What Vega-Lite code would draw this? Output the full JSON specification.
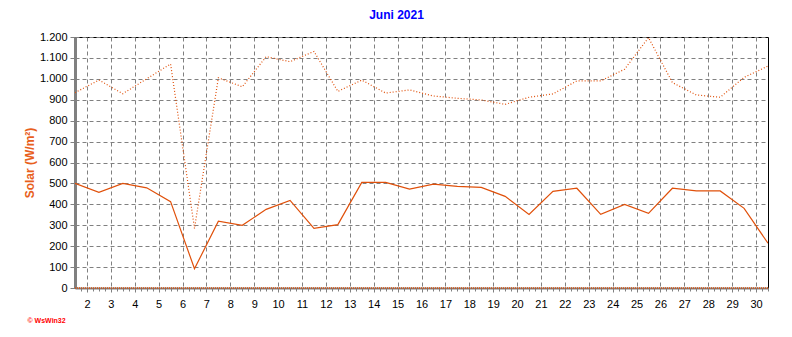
{
  "$schema": "https://vega.github.io/schema/vega-lite/v6.json",
  "width": 693,
  "height": 251,
  "autosize": "none",
  "padding": {"left": 75, "top": 37, "right": 24, "bottom": 49},
  "background": "#ffffff",
  "title": {"text": "Juni 2021", "fontSize": 12, "fontWeight": "bold", "color": "#0000ff", "font": "Liberation Sans", "anchor": "middle", "dx": -25, "offset": 9},
  "config": {"view": {"stroke": "#000000", "strokeWidth": 1}},
  "data": {"values": [
    {"tag": 1, "max": 934, "avg": 500, "min": 0},
    {"tag": 2, "max": 994, "avg": 457, "min": 0},
    {"tag": 3, "max": 929, "avg": 500, "min": 0},
    {"tag": 4, "max": 1000, "avg": 479, "min": 0},
    {"tag": 5, "max": 1071, "avg": 413, "min": 0},
    {"tag": 6, "max": 285, "avg": 92, "min": 0},
    {"tag": 7, "max": 1005, "avg": 319, "min": 0},
    {"tag": 8, "max": 962, "avg": 300, "min": 0},
    {"tag": 9, "max": 1106, "avg": 376, "min": 0},
    {"tag": 10, "max": 1082, "avg": 419, "min": 0},
    {"tag": 11, "max": 1131, "avg": 285, "min": 0},
    {"tag": 12, "max": 940, "avg": 303, "min": 0},
    {"tag": 13, "max": 994, "avg": 505, "min": 0},
    {"tag": 14, "max": 932, "avg": 505, "min": 0},
    {"tag": 15, "max": 947, "avg": 473, "min": 0},
    {"tag": 16, "max": 918, "avg": 497, "min": 0},
    {"tag": 17, "max": 907, "avg": 486, "min": 0},
    {"tag": 18, "max": 899, "avg": 481, "min": 0},
    {"tag": 19, "max": 878, "avg": 438, "min": 0},
    {"tag": 20, "max": 912, "avg": 352, "min": 0},
    {"tag": 21, "max": 928, "avg": 462, "min": 0},
    {"tag": 22, "max": 990, "avg": 477, "min": 0},
    {"tag": 23, "max": 990, "avg": 352, "min": 0},
    {"tag": 24, "max": 1046, "avg": 400, "min": 0},
    {"tag": 25, "max": 1197, "avg": 357, "min": 0},
    {"tag": 26, "max": 982, "avg": 477, "min": 0},
    {"tag": 27, "max": 923, "avg": 464, "min": 0},
    {"tag": 28, "max": 912, "avg": 464, "min": 0},
    {"tag": 29, "max": 1007, "avg": 381, "min": 0},
    {"tag": 30, "max": 1061, "avg": 214, "min": 0}
  ]},
  "resolve": {"axis": {"x": "independent", "y": "independent"}},
  "layer": [
    {
      "mark": {"type": "line", "color": "#e0500a", "strokeWidth": 1.2, "strokeDash": [1, 2], "clip": true},
      "encoding": {
        "x": {"field": "tag", "type": "quantitative",
          "scale": {"domain": [1, 30], "nice": false, "zero": false},
          "axis": {"orient": "bottom", "title": null,
            "values": [1.5,2.5,3.5,4.5,5.5,6.5,7.5,8.5,9.5,10.5,11.5,12.5,13.5,14.5,15.5,16.5,17.5,18.5,19.5,20.5,21.5,22.5,23.5,24.5,25.5,26.5,27.5,28.5,29.5],
            "labelExpr": "format(datum.value + 0.5, 'd')",
            "grid": true, "gridColor": "#808080", "gridDash": [4, 3], "gridWidth": 1, "gridOpacity": 1,
            "domain": true, "domainColor": "#808080", "domainWidth": 2,
            "ticks": true, "tickColor": "#808080", "tickSize": 4, "tickWidth": 1,
            "labelFont": "Liberation Sans", "labelFontSize": 11, "labelColor": "#000000", "labelPadding": 6, "labelFlush": false, "labelOverlap": false}},
        "y": {"field": "max", "type": "quantitative",
          "scale": {"domain": [0, 1200], "nice": false, "zero": true},
          "axis": {"title": "Solar (W/m²)", "titleColor": "#e8601c", "titleFont": "Liberation Sans", "titleFontSize": 12, "titleFontWeight": "bold", "titlePadding": 3,
            "values": [0,100,200,300,400,500,600,700,800,900,1000,1100,1200],
            "labelExpr": "replace(format(datum.value, ','), ',', '.')",
            "grid": true, "gridColor": "#808080", "gridDash": [4, 3], "gridWidth": 1, "gridOpacity": 1,
            "domain": true, "domainColor": "#808080", "domainWidth": 3,
            "ticks": true, "tickColor": "#808080", "tickSize": 5, "tickWidth": 1,
            "labelFont": "Liberation Sans", "labelFontSize": 11, "labelColor": "#000000", "labelPadding": 3, "labelFlush": false, "labelOverlap": false}}
      }
    },
    {
      "mark": {"type": "line", "color": "#e0500a", "strokeWidth": 1.2, "clip": true},
      "encoding": {
        "x": {"field": "tag", "type": "quantitative",
          "axis": {"orient": "bottom", "labels": false, "grid": false, "domain": false,
            "ticks": true, "tickColor": "#808080", "tickSize": 3, "tickWidth": 1,
            "values": [1.25,1.75,2,2.25,2.75,3,3.25,3.75,4,4.25,4.75,5,5.25,5.75,6,6.25,6.75,7,7.25,7.75,8,8.25,8.75,9,9.25,9.75,10,10.25,10.75,11,11.25,11.75,12,12.25,12.75,13,13.25,13.75,14,14.25,14.75,15,15.25,15.75,16,16.25,16.75,17,17.25,17.75,18,18.25,18.75,19,19.25,19.75,20,20.25,20.75,21,21.25,21.75,22,22.25,22.75,23,23.25,23.75,24,24.25,24.75,25,25.25,25.75,26,26.25,26.75,27,27.25,27.75,28,28.25,28.75,29,29.25,29.75,30],
            "title": "© WsWin32", "titleAnchor": "start", "titleAlign": "left", "titleX": -48, "titleY": 34, "titleBaseline": "alphabetic",
            "titleFont": "Liberation Sans", "titleFontSize": 7, "titleFontWeight": "bold", "titleColor": "#ff0000"}},
        "y": {"field": "avg", "type": "quantitative", "axis": null}
      }
    },
    {
      "mark": {"type": "line", "color": "#e0500a", "strokeWidth": 1.5, "strokeDash": [1, 1], "clip": false},
      "encoding": {
        "x": {"field": "tag", "type": "quantitative", "axis": null},
        "y": {"field": "min", "type": "quantitative", "axis": null}
      }
    }
  ]
}
